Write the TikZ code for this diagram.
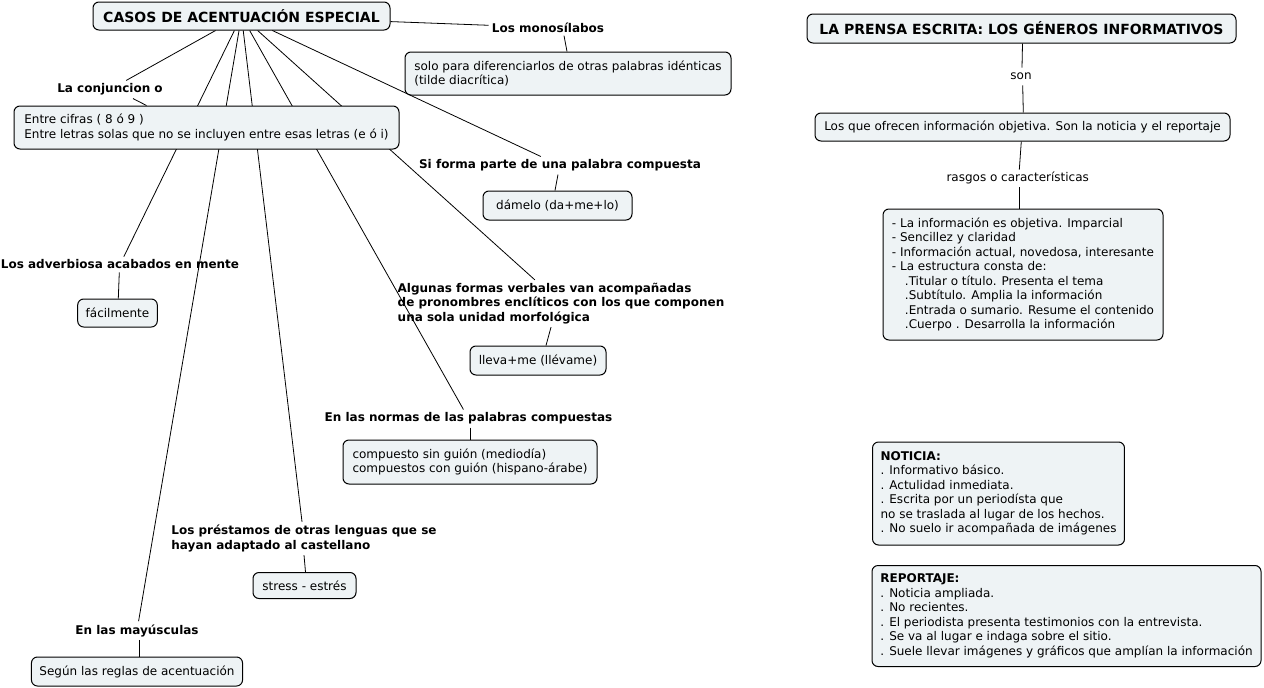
\documentclass[tikz,border=0pt]{standalone}
\usepackage{fontspec}
\setmainfont{DejaVu Sans}
\definecolor{boxfill}{HTML}{EEF3F5}
\pgfdeclarelayer{back}
\pgfdeclarelayer{lines}
\pgfsetlayers{back,lines,main}
\begin{document}
\begin{tikzpicture}[x=1pt,y=-1pt,
  box/.style={draw=black, line width=1pt, fill=boxfill, rounded corners=6pt,
    inner xsep=8pt, inner ysep=5pt, align=left, font=\fontsize{12}{14.5}\selectfont},
  titlebox/.style={box, align=center, font=\fontsize{14}{17}\selectfont\bfseries},
  lbl/.style={inner sep=3pt, align=left, font=\fontsize{12}{14.5}\selectfont\bfseries},
  linkword/.style={inner sep=3pt, text height=9pt, text depth=2.5pt, font=\fontsize{12}{14.5}\selectfont},
  conn/.style={draw=black, line width=0.8pt}]
\useasboundingbox (0,0) rectangle (1264,688);
\begin{pgfonlayer}{back}
\fill[white] (0,0) rectangle (1264,688);
\end{pgfonlayer}

% ---------- left map ----------
\node[titlebox, minimum width=297pt, minimum height=28pt] (root1) at (241.5,16) {CASOS DE ACENTUACIÓN ESPECIAL};

\node[lbl] (monoL) at (548,27.5) {Los monosílabos};
\node[box, minimum width=326pt, minimum height=43pt] (monoB) at (568,73.5) {solo para diferenciarlos de otras palabras idénticas\\(tilde diacrítica)};

\node[lbl] (conjL) at (110,89.5) {La conjuncion o};
\node[box, minimum width=385pt, minimum height=43pt] (conjB) at (206.5,127.5) {Entre cifras ( 8 ó 9 )\\Entre letras solas que no se incluyen entre esas letras (e ó i)};

\node[lbl] (compL) at (560,165.5) {Si forma parte de una palabra compuesta};
\node[box, minimum width=149pt, minimum height=29pt] (compB) at (557.5,205.5) {dámelo (da+me+lo)};

\node[lbl] (advL) at (120,264.5) {Los adverbiosa acabados en mente};
\node[box, minimum width=79pt, minimum height=28pt] (advB) at (117.5,313) {fácilmente};

\node[lbl] (verbL) at (561,303.5) {Algunas formas verbales van acompañadas\\de pronombres enclíticos con los que componen\\una sola unidad morfológica};
\node[box, minimum width=136pt, minimum height=29pt] (verbB) at (538,360.5) {lleva+me (llévame)};

\node[lbl] (normL) at (468.5,418.5) {En las normas de las palabras compuestas};
\node[box, minimum width=254pt, minimum height=44pt] (normB) at (470,462) {compuesto sin guión (mediodía)\\compuestos con guión (hispano-árabe)};

\node[lbl] (prestL) at (304,538.5) {Los préstamos de otras lenguas que se\\hayan adaptado al castellano};
\node[box, minimum width=103pt, minimum height=26pt] (prestB) at (304.5,585.5) {stress - estrés};

\node[lbl] (mayL) at (137,630.5) {En las mayúsculas};
\node[box, minimum width=210pt, minimum height=29pt] (mayB) at (137,671.5) {Según las reglas de acentuación};

% ---------- right map ----------
\node[titlebox, minimum width=429pt, minimum height=29pt] (root2) at (1021.5,28.5) {LA PRENSA ESCRITA: LOS GÉNEROS INFORMATIVOS};
\node[linkword] (son) at (1021,76.5) {son};
\node[box, minimum width=415pt, minimum height=28pt] (objB) at (1022.5,127) {Los que ofrecen información objetiva. Son la noticia y el reportaje};
\node[linkword] (rasgos) at (1017.7,178.5) {rasgos o características};
\node[box, minimum width=280pt, minimum height=131pt] (listB) at (1023,274.5) {- La información es objetiva. Imparcial\\- Sencillez y claridad\\- Información actual, novedosa, interesante\\- La estructura consta de:\\\hspace*{13pt}.Titular o título. Presenta el tema\\\hspace*{13pt}.Subtítulo. Amplia la información\\\hspace*{13pt}.Entrada o sumario. Resume el contenido\\\hspace*{13pt}.Cuerpo . Desarrolla la información};

\node[box, minimum width=251pt, minimum height=103pt] (notB) at (998.5,493.5) {\textbf{NOTICIA:}\\. Informativo básico.\\. Actulidad inmediata.\\. Escrita por un periodísta que\\no se traslada al lugar de los hechos.\\. No suelo ir acompañada de imágenes};
\node[box, minimum width=389pt, minimum height=101pt] (repB) at (1066.5,616) {\textbf{REPORTAJE:}\\. Noticia ampliada.\\. No recientes.\\. El periodista presenta testimonios con la entrevista.\\. Se va al lugar e indaga sobre el sitio.\\. Suele llevar imágenes y gráficos que amplían la información};

% ---------- connectors ----------
\begin{pgfonlayer}{lines}
\draw[conn] (root1) -- (monoL);
\draw[conn] (root1) -- (conjL);
\draw[conn] (root1) -- (advL);
\draw[conn] (root1) -- (mayL);
\draw[conn] (root1) -- (prestL);
\draw[conn] (root1) -- (normL);
\draw[conn] (root1) -- (verbL);
\draw[conn] (root1) -- (compL);

\draw[conn] ([xshift=16pt]monoL.south) -- ([xshift=-1pt]monoB.north);
\draw[conn] ([xshift=23pt]conjL.south) -- ([xshift=-60pt]conjB.north);
\draw[conn] ([xshift=-2pt]compL.south) -- ([xshift=-2.5pt]compB.north);
\draw[conn] ([xshift=-0.7pt]advL.south) -- ([xshift=0.8pt]advB.north);
\draw[conn] ([xshift=-10pt]verbL.south) -- ([xshift=8pt]verbB.north);
\draw[conn] ([xshift=1.5pt]normL.south) -- (normB.north);
\draw[conn] (prestL.south) -- ([xshift=1pt]prestB.north);
\draw[conn] ([xshift=2pt]mayL.south) -- ([xshift=2pt]mayB.north);

\draw[conn] ([xshift=1pt]root2.south) -- ([xshift=1pt]son.north);
\draw[conn] ([xshift=1.7pt]son.south) -- ([xshift=0.8pt]objB.north);
\draw[conn] ([xshift=-1.2pt]objB.south) -- ([xshift=1.6pt]rasgos.north);
\draw[conn] ([xshift=1.6pt]rasgos.south) -- ([xshift=-3.7pt]listB.north);
\end{pgfonlayer}
\end{tikzpicture}
\end{document}
